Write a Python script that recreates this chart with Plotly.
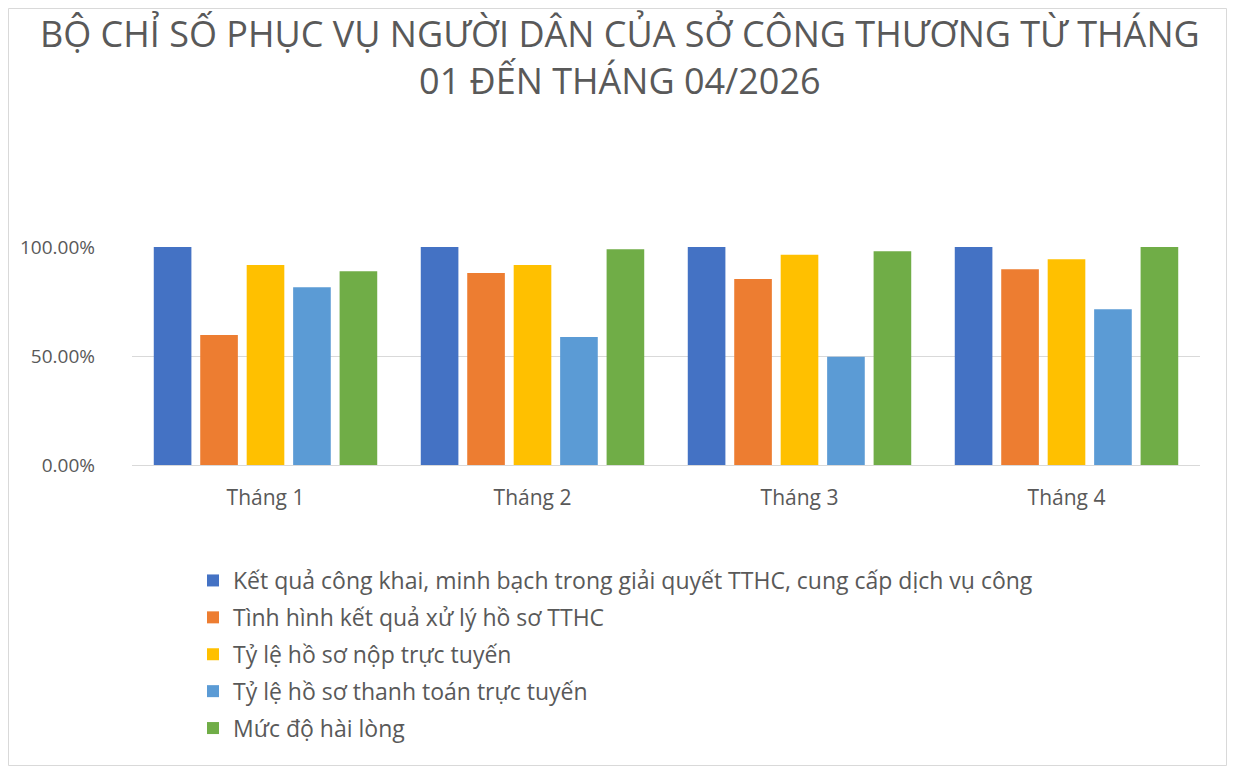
import plotly.graph_objects as go

OFF = 8  # default page margin around the figure
W, H = 1235 - 2 * OFF, 774 - 2 * OFF
ML, MT = 132 - OFF, 247 - OFF
MR = W - (1200 - OFF)
MB = H - (465 - OFF)

months = ["Tháng 1", "Tháng 2", "Tháng 3", "Tháng 4"]
series_names = [
    "Kết quả công khai, minh bạch trong giải quyết TTHC, cung cấp dịch vụ công",
    "Tình hình kết quả xử lý hồ sơ TTHC",
    "Tỷ lệ hồ sơ nộp trực tuyến",
    "Tỷ lệ hồ sơ thanh toán trực tuyến",
    "Mức độ hài lòng",
]
cong_khai = [1.00, 1.00, 1.00, 1.00]
xu_ly = [0.596, 0.881, 0.853, 0.898]
nop_truc_tuyen = [0.918, 0.918, 0.964, 0.944]
thanh_toan = [0.815, 0.587, 0.496, 0.714]
hai_long = [0.889, 0.990, 0.980, 1.00]
series_values = [cong_khai, xu_ly, nop_truc_tuyen, thanh_toan, hai_long]
colors = ["#4472C4", "#ED7D31", "#FFC000", "#5B9BD5", "#70AD47"]
y_ticks = [0, 0.5, 1.0]
title_lines = ["BỘ CHỈ SỐ PHỤC VỤ NGƯỜI DÂN CỦA SỞ CÔNG THƯƠNG TỪ THÁNG",
               "01 ĐẾN THÁNG 04/2026"]

FONT = "Open Sans, Noto Sans, sans-serif"
GRAY = "#595959"

fig = go.Figure()
for i, (name, vals, col) in enumerate(zip(series_names, series_values, colors)):
    fig.add_trace(go.Bar(
        x=months, y=vals, name=name, marker=dict(color=col, line=dict(width=0)),
        legendgroup=f"g{i}",
    ))

pw = W - ML - MR
ph = H - MT - MB

def px_x(p):  # page px -> paper x
    return (p - OFF - ML) / pw

def px_y(p):  # page px -> paper y
    return (H - MB - (p - OFF)) / ph

annotations = [dict(
    text="<br>".join(title_lines), xref="paper", yref="paper",
    x=px_x(620), y=px_y(57), xanchor="center", yanchor="middle",
    align="center", showarrow=False,
    font=dict(family=FONT, size=36, color=GRAY),
)]

fig.update_layout(
    width=W, height=H,
    margin=dict(l=ML, r=MR, t=MT, b=MB, autoexpand=False),
    paper_bgcolor="white", plot_bgcolor="white",
    font=dict(family=FONT, color=GRAY),
    barmode="group", bargap=0.13, bargroupgap=0.19,
    annotations=annotations,
    xaxis=dict(
        showgrid=False, showline=False, zeroline=False, ticks="",
        tickfont=dict(size=21, color=GRAY, family=FONT),
        ticklabelstandoff=18,
    ),
    yaxis=dict(
        range=[0, 1], tickvals=y_ticks, tickformat=".2%",
        showgrid=True, gridcolor="#D9D9D9", gridwidth=1,
        zeroline=True, zerolinecolor="#D9D9D9", zerolinewidth=1,
        showline=False, ticks="",
        tickfont=dict(size=19, color=GRAY, family=FONT),
        ticklabelstandoff=36,
    ),
    legend=dict(
        orientation="v", x=px_x(193), xanchor="left",
        y=px_y(559), yanchor="top",
        font=dict(size=23, color=GRAY, family=FONT),
        tracegroupgap=4, bgcolor="rgba(0,0,0,0)",
        itemclick=False, itemdoubleclick=False,
    ),
    showlegend=True,
    shapes=[dict(
        type="rect", xref="paper", yref="paper",
        x0=(0.5 - ML) / pw, x1=(W - 0.5 - ML) / pw,
        y0=(MB - 0.5) / -ph, y1=(H - MB - 0.5) / ph,
        line=dict(color="#D9D9D9", width=1), fillcolor="rgba(0,0,0,0)", layer="below",
    )],
)

fig.write_html("out.html")
